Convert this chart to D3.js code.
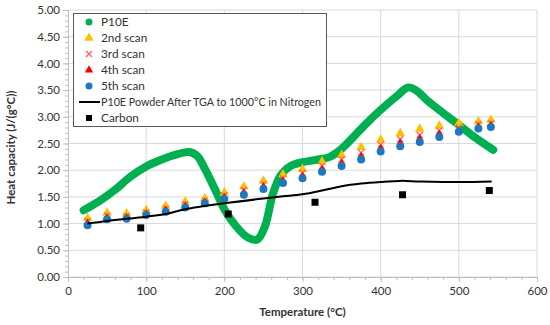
<!DOCTYPE html>
<html>
<head>
<meta charset="utf-8">
<script src="https://cdn.jsdelivr.net/npm/d3@7"></script>
<style>
  body { margin: 0; background: #fff; }
  text { font-family: Lato, "Open Sans", sans-serif; fill: #333; }
</style>
</head>
<body>
<div id="graph"></div>
<script>
// chart size
let w = 550;
let h = 325;
let margin = {top: 10, right: 13, bottom: 48, left: 68};

// data
let p10eT  = [20, 40, 60, 80, 100, 120, 140, 155, 165, 175, 190, 200, 215, 230, 242, 252, 262, 272, 285, 300, 320, 335, 350, 365, 380, 400, 420, 435, 445, 460, 480, 500, 520, 544];
let p10eCp = [1.25, 1.42, 1.63, 1.88, 2.07, 2.2, 2.3, 2.34, 2.27, 2.03, 1.58, 1.27, 0.95, 0.74, 0.7, 0.95, 1.55, 1.9, 2.08, 2.15, 2.2, 2.25, 2.4, 2.62, 2.85, 3.13, 3.38, 3.55, 3.5, 3.3, 3.07, 2.85, 2.62, 2.38];

let scanT  = [25, 50, 75, 100, 125, 150, 175, 200, 225, 250, 275, 300, 325, 350, 375, 400, 425, 450, 475, 500, 525, 541];
let scan2  = [1.10, 1.20, 1.19, 1.25, 1.33, 1.41, 1.47, 1.58, 1.69, 1.80, 1.92, 2.02, 2.16, 2.28, 2.43, 2.57, 2.69, 2.77, 2.83, 2.88, 2.91, 2.94];
let scan3  = [1.05, 1.15, 1.14, 1.21, 1.28, 1.36, 1.43, 1.53, 1.63, 1.74, 1.85, 1.95, 2.08, 2.20, 2.33, 2.48, 2.58, 2.66, 2.74, 2.80, 2.86, 2.88];
let scan4  = [1.02, 1.12, 1.12, 1.19, 1.26, 1.34, 1.41, 1.50, 1.59, 1.70, 1.81, 1.90, 2.03, 2.14, 2.27, 2.42, 2.52, 2.60, 2.69, 2.73, 2.82, 2.85];
let scan5  = [0.97, 1.08, 1.09, 1.16, 1.22, 1.30, 1.38, 1.46, 1.54, 1.65, 1.76, 1.85, 1.97, 2.08, 2.20, 2.35, 2.45, 2.53, 2.62, 2.72, 2.78, 2.81];

let tgaT  = [25, 50, 100, 125, 150, 200, 250, 275, 300, 325, 350, 375, 400, 425, 450, 500, 542];
let tgaCp = [1.0, 1.05, 1.13, 1.18, 1.27, 1.38, 1.47, 1.51, 1.55, 1.62, 1.70, 1.75, 1.78, 1.80, 1.79, 1.78, 1.79];

let carbonT  = [93, 205, 316, 428, 539];
let carbonCp = [0.92, 1.18, 1.40, 1.54, 1.62];

let xTicks = [0, 100, 200, 300, 400, 500, 600];
let yTicks = [0, 0.5, 1, 1.5, 2, 2.5, 3, 3.5, 4, 4.5, 5];

let legendNames = ["P10E", "2nd scan", "3rd scan", "4th scan", "5th scan", "P10E Powder After TGA to 1000°C in Nitrogen", "Carbon"];

let green = "#00b050", yellow = "#ffc000", red = "#ff0000", pink = "#ff5a5a", blue = "#1f77c0";

let svg = d3.select("#graph")
              .append("svg")
                .attr("width", w)
                .attr("height", h);

let x = d3.scaleLinear().domain([0, 600]).range([margin.left, w - margin.right]);
let y = d3.scaleLinear().domain([0, 5]).range([h - margin.bottom, margin.top]);

// gridlines
svg.append("g").selectAll("line").data(yTicks).enter()
    .append("line")
      .attr("x1", x(0)).attr("x2", x(600))
      .attr("y1", d => y(d)).attr("y2", d => y(d))
      .attr("stroke", "#d9d9d9").attr("stroke-width", 1);
svg.append("g").selectAll("line").data(xTicks.slice(1)).enter()
    .append("line")
      .attr("x1", d => x(d)).attr("x2", d => x(d))
      .attr("y1", y(0)).attr("y2", y(5))
      .attr("stroke", "#d9d9d9").attr("stroke-width", 1);

// axes
let xAxis = svg.append("g")
    .attr("transform", "translate(0," + y(0) + ")")
    .call(d3.axisBottom(x).tickValues(xTicks).tickSize(5).tickPadding(5).tickFormat(d3.format("d")));
let xMinor = svg.append("g")
    .attr("transform", "translate(0," + y(0) + ")")
    .call(d3.axisBottom(x).tickValues(d3.range(0, 601, 20)).tickSize(3).tickFormat(""));
let yAxis = svg.append("g")
    .attr("transform", "translate(" + x(0) + ",0)")
    .call(d3.axisLeft(y).tickValues(yTicks).tickSize(5).tickPadding(3).tickFormat(d3.format(".2f")));
let yMinor = svg.append("g")
    .attr("transform", "translate(" + x(0) + ",0)")
    .call(d3.axisLeft(y).tickValues(d3.range(0, 5.01, 0.1)).tickSize(3).tickFormat(""));

[xAxis, xMinor, yAxis, yMinor].forEach(function(a){
  a.select(".domain").attr("stroke", "#bfbfbf");
  a.selectAll(".tick line").attr("stroke", "#bfbfbf");
  a.selectAll("text").attr("font-size", 11.5).attr("fill", "#333").attr("font-family", "Lato, sans-serif");
});

// axis titles
svg.append("text")
    .attr("x", (x(0) + x(600)) / 2).attr("y", 316)
    .attr("text-anchor", "middle").attr("font-size", 11.5).attr("font-weight", "bold")
    .text("Temperature (°C)");
svg.append("text")
    .attr("transform", "translate(15," + (y(2.5) + 4) + ") rotate(-90)")
    .attr("text-anchor", "middle").attr("font-size", 11.5).attr("font-weight", "bold")
    .text("Heat capacity (J/(g°C))");

// P10E thick line
let line = d3.line().x(d => x(d[0])).y(d => y(d[1])).curve(d3.curveCatmullRom);
svg.append("path")
    .datum(d3.zip(p10eT, p10eCp))
    .attr("d", line)
    .attr("fill", "none").attr("stroke", green).attr("stroke-width", 8)
    .attr("stroke-linecap", "round").attr("stroke-linejoin", "round");

// marker helpers
let tri = d3.symbol().type(d3.symbolTriangle);
function triangles(vals, size, col){
  svg.append("g").selectAll("path").data(d3.zip(scanT, vals)).enter()
      .append("path")
        .attr("d", tri.size(size)())
        .attr("transform", d => "translate(" + x(d[0]) + "," + y(d[1]) + ")")
        .attr("fill", col);
}
triangles(scan2, 40, yellow);

svg.append("g").selectAll("path").data(d3.zip(scanT, scan3)).enter()
    .append("path")
      .attr("d", "M-3,-3L3,3M-3,3L3,-3")
      .attr("transform", d => "translate(" + x(d[0]) + "," + y(d[1]) + ")")
      .attr("stroke", pink).attr("stroke-width", 1.2).attr("fill", "none");

triangles(scan4, 22, red);

svg.append("g").selectAll("circle").data(d3.zip(scanT, scan5)).enter()
    .append("circle")
      .attr("cx", d => x(d[0])).attr("cy", d => y(d[1])).attr("r", 4)
      .attr("fill", blue);

// TGA line
svg.append("path")
    .datum(d3.zip(tgaT, tgaCp))
    .attr("d", d3.line().x(d => x(d[0])).y(d => y(d[1])).curve(d3.curveCatmullRom))
    .attr("fill", "none").attr("stroke", "#000").attr("stroke-width", 2);

// carbon squares
svg.append("g").selectAll("rect").data(d3.zip(carbonT, carbonCp)).enter()
    .append("rect")
      .attr("x", d => x(d[0]) - 3.5).attr("y", d => y(d[1]) - 3.5)
      .attr("width", 7).attr("height", 7)
      .attr("fill", "#000");

// legend
let lg = svg.append("g");
lg.append("rect")
    .attr("x", 73.5).attr("y", 13.5).attr("width", 253).attr("height", 113)
    .attr("fill", "#fff").attr("stroke", "#595959").attr("stroke-width", 1);

let rowY = d3.scaleLinear().domain([0, 6]).range([22, 118]);
let mx = 89;

lg.selectAll("text").data(legendNames).enter()
    .append("text")
      .attr("x", 101).attr("y", (d, i) => rowY(i) + 4)
      .attr("font-size", 11.8)
      .attr("fill", "#222")
      .text(d => d);
// keep the long entry inside the box like the original
lg.selectAll("text").filter((d, i) => i == 5)
    .attr("textLength", 220).attr("lengthAdjust", "spacingAndGlyphs");

lg.append("circle").attr("cx", mx).attr("cy", rowY(0)).attr("r", 3.5).attr("fill", green);
lg.append("path").attr("d", tri.size(40)()).attr("transform", "translate(" + mx + "," + rowY(1) + ")").attr("fill", yellow);
lg.append("path").attr("d", "M-3,-3L3,3M-3,3L3,-3").attr("transform", "translate(" + mx + "," + rowY(2) + ")")
    .attr("stroke", pink).attr("stroke-width", 1.2);
lg.append("path").attr("d", tri.size(30)()).attr("transform", "translate(" + mx + "," + rowY(3) + ")").attr("fill", red);
lg.append("circle").attr("cx", mx).attr("cy", rowY(4)).attr("r", 3.5).attr("fill", blue);
lg.append("line").attr("x1", 79).attr("x2", 100).attr("y1", rowY(5)).attr("y2", rowY(5))
    .attr("stroke", "#000").attr("stroke-width", 2);
lg.append("rect").attr("x", mx - 3).attr("y", rowY(6) - 3).attr("width", 6).attr("height", 6).attr("fill", "#000");
</script>
</body>
</html>
